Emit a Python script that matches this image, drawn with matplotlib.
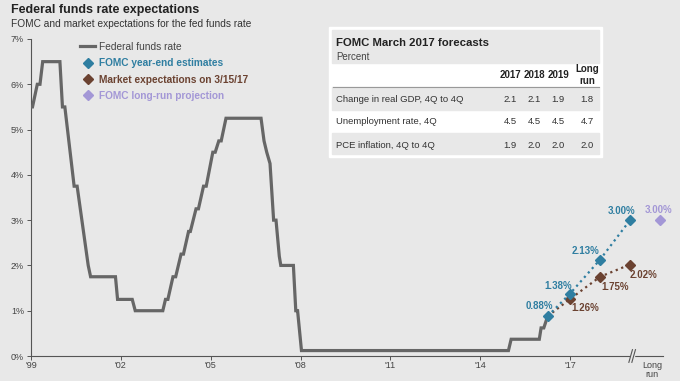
import matplotlib
matplotlib.use("Agg")
import matplotlib.pyplot as plt
import matplotlib.transforms as mtransforms
from matplotlib.lines import Line2D
from matplotlib.patches import Rectangle

plt.rcParams['font.family'] = ['Liberation Sans', 'DejaVu Sans']

# fed funds rate, x in years after the '99 tick
ffr_x = [0.0, 0.05, 0.21, 0.30, 0.39, 0.965, 1.05, 1.13, 1.44, 1.54, 1.91, 1.99,
         2.82, 2.89, 3.38, 3.48, 4.40, 4.49, 4.57, 4.74, 4.83, 5.01, 5.09, 5.26,
         5.32, 5.51, 5.59, 5.76, 5.85, 6.07, 6.15, 6.27, 6.35, 6.51, 7.68, 7.78,
         7.87, 7.98, 8.10, 8.18, 8.29, 8.34, 8.76, 8.84, 8.90, 9.03, 15.94, 16.03,
         16.97, 17.03, 17.12, 17.25]
ffr_y = [5.5, 5.5, 6.0, 6.0, 6.5, 6.5, 5.5, 5.5, 3.75, 3.75, 2.0, 1.75,
         1.75, 1.25, 1.25, 1.0, 1.0, 1.25, 1.25, 1.75, 1.75, 2.25, 2.25, 2.75,
         2.75, 3.25, 3.25, 3.75, 3.75, 4.5, 4.5, 4.75, 4.75, 5.25, 5.25, 4.75,
         4.5, 4.25, 3.0, 3.0, 2.2, 2.0, 2.0, 1.0, 1.0, 0.12, 0.12, 0.37,
         0.37, 0.62, 0.62, 0.88]

fomc_x = [17.25, 18, 19, 20]
fomc_y = [0.88, 1.38, 2.13, 3.00]
fomc_lbl = ['0.88%', '1.38%', '2.13%', '3.00%']

mkt_x = [17.25, 18, 19, 20]
mkt_y = [0.88, 1.26, 1.75, 2.02]
mkt_lbl = ['', '1.26%', '1.75%', '2.02%']

lr_x = [21.0]
lr_y = [3.00]
lr_lbl = ['3.00%']

xtick_pos = [0, 3, 6, 9, 12, 15, 18, 20.73]
xtick_lbl = ["'99", "'02", "'05", "'08", "'11", "'14", "'17", "Long\nrun"]

tbl_cols = ['2017', '2018', '2019', 'Long\nrun']
tbl_rows = ['Change in real GDP, 4Q to 4Q', 'Unemployment rate, 4Q', 'PCE inflation, 4Q to 4Q']
tbl_vals = [['2.1', '2.1', '1.9', '1.8'],
            ['4.5', '4.5', '4.5', '4.7'],
            ['1.9', '2.0', '2.0', '2.0']]

bg = '#e8e8e8'
grey = '#666666'
blue = '#2f7ea1'
brown = '#6b4231'
purple = '#a397d6'

W, H = 680, 381
fig = plt.figure(figsize=(6.8, 3.81), dpi=100, facecolor=bg)
ax = fig.add_axes([31/W, 1-356/H, (663-31)/W, (356-39)/H])
ax.set_facecolor(bg)

ax.plot(ffr_x, ffr_y, color=grey, lw=2.3, solid_joinstyle='miter', zorder=3)
ax.plot(mkt_x, mkt_y, ls=':', lw=1.6, color=brown, marker='D', ms=4.6,
        markevery=[1, 2, 3], zorder=4)
ax.plot(fomc_x, fomc_y, ls=':', lw=1.6, color=blue, marker='D', ms=4.6, zorder=5)
ax.plot(lr_x, lr_y, ls='none', marker='D', ms=4.6, color=purple, zorder=5, clip_on=False)

fomc_off = [(-8, 10), (-12, 8), (-15, 9), (-9, 9)]
for x, y, s, o in zip(fomc_x, fomc_y, fomc_lbl, fomc_off):
    ax.annotate(s, (x, y), xytext=o, textcoords='offset pixels', ha='center', va='center',
                fontsize=7, fontweight='bold', color=blue)
mkt_off = [(0, 0), (15, -9), (15, -10), (13, -10)]
for x, y, s, o in zip(mkt_x, mkt_y, mkt_lbl, mkt_off):
    if s:
        ax.annotate(s, (x, y), xytext=o, textcoords='offset pixels', ha='center', va='center',
                    fontsize=7, fontweight='bold', color=brown)
for x, y, s in zip(lr_x, lr_y, lr_lbl):
    ax.annotate(s, (x, y), xytext=(-1, 10), textcoords='offset pixels', ha='center', va='center',
                fontsize=7, fontweight='bold', color=purple, annotation_clip=False)

ax.set_xlim(0, 21.1)
ax.set_ylim(0, 7)
ax.set_yticks(range(8))
ax.set_yticklabels([f'{i}%' for i in range(8)])
ax.set_xticks(xtick_pos)
ax.set_xticklabels(xtick_lbl, linespacing=0.95)
ax.xaxis.get_major_ticks()[-1].tick1line.set_visible(False)
ax.get_xticklabels()[-1].set_fontsize(6.2)
for s in ['top', 'right']:
    ax.spines[s].set_visible(False)
for s in ['left', 'bottom']:
    ax.spines[s].set_color('#555555')
    ax.spines[s].set_linewidth(0.8)
ax.tick_params(length=3, width=0.7, color='#555555', labelsize=6.5, labelcolor='#444444', pad=2)
ax.tick_params(axis='x', pad=0.5)

# axis break
tr = mtransforms.blended_transform_factory(ax.transData, ax.transAxes)
ax.add_patch(Rectangle((20.03, -0.02), 0.09, 0.04, transform=tr, color=bg,
                       clip_on=False, zorder=6))
for bx in [20.02, 20.12]:
    ax.plot([bx - 0.06, bx + 0.06], [-0.02, 0.02], transform=tr, color='#555555',
            lw=0.8, clip_on=False, zorder=7)

# legend
handles = [Line2D([], [], color=grey, lw=2.3),
           Line2D([], [], ls='none', marker='D', ms=4.6, color=blue),
           Line2D([], [], ls='none', marker='D', ms=4.6, color=brown),
           Line2D([], [], ls='none', marker='D', ms=4.6, color=purple)]
labels = ['Federal funds rate', 'FOMC year-end estimates',
          'Market expectations on 3/15/17', 'FOMC long-run projection']
leg = ax.legend(handles, labels, loc='upper left', bbox_to_anchor=(80/W, 1-42/H),
                bbox_transform=fig.transFigure, frameon=False, fontsize=7.3,
                handlelength=1.5, handletextpad=0.35, labelspacing=0.62, borderpad=0,
                borderaxespad=0)
for t, c, w in zip(leg.get_texts(), ['#444444', blue, brown, purple],
                   ['normal', 'bold', 'bold', 'bold']):
    t.set_color(c)
    t.set_fontweight(w)

# titles
fig.text(11/W, 1-10/H, 'Federal funds rate expectations', fontsize=9, fontweight='bold',
         color='#222222', va='center')
fig.text(11/W, 1-24/H, 'FOMC and market expectations for the fed funds rate', fontsize=7.3,
         color='#333333', va='center')

# forecast table
def box(x0, y0, x1, y1, c):
    fig.patches.append(Rectangle((x0/W, 1-y1/H), (x1-x0)/W, (y1-y0)/H,
                                 transform=fig.transFigure, color=c, zorder=1))

box(329, 27, 602, 157, 'white')
box(332, 30, 599, 63, bg)
box(332, 87, 599, 110, bg)
box(332, 133, 599, 154, bg)
fig.lines.append(Line2D([333/W, 599/W], [1-87/H, 1-87/H], transform=fig.transFigure,
                        color='#999999', lw=0.8, zorder=2))
fig.text(336/W, 1-43/H, 'FOMC March 2017 forecasts', fontsize=8.2, fontweight='bold',
         color='#222222', va='center', zorder=3)
fig.text(336/W, 1-57/H, 'Percent', fontsize=7, color='#444444', va='center', zorder=3)
col_x = [510, 534, 558, 587]
for cx, c in zip(col_x, tbl_cols):
    fig.text(cx/W, 1-75/H, c, fontsize=7.0, fontweight='bold', color='#222222',
             ha='center', va='center', linespacing=1.15, zorder=3)
row_y = [99, 121, 145]
for ry, r, vals in zip(row_y, tbl_rows, tbl_vals):
    fig.text(336/W, 1-ry/H, r, fontsize=6.8, color='#333333', va='center', zorder=3)
    for cx, v in zip(col_x, vals):
        fig.text(cx/W, 1-ry/H, v, fontsize=6.8, color='#333333', ha='center',
                 va='center', zorder=3)

fig.savefig('out.png', dpi=100, facecolor=bg)
